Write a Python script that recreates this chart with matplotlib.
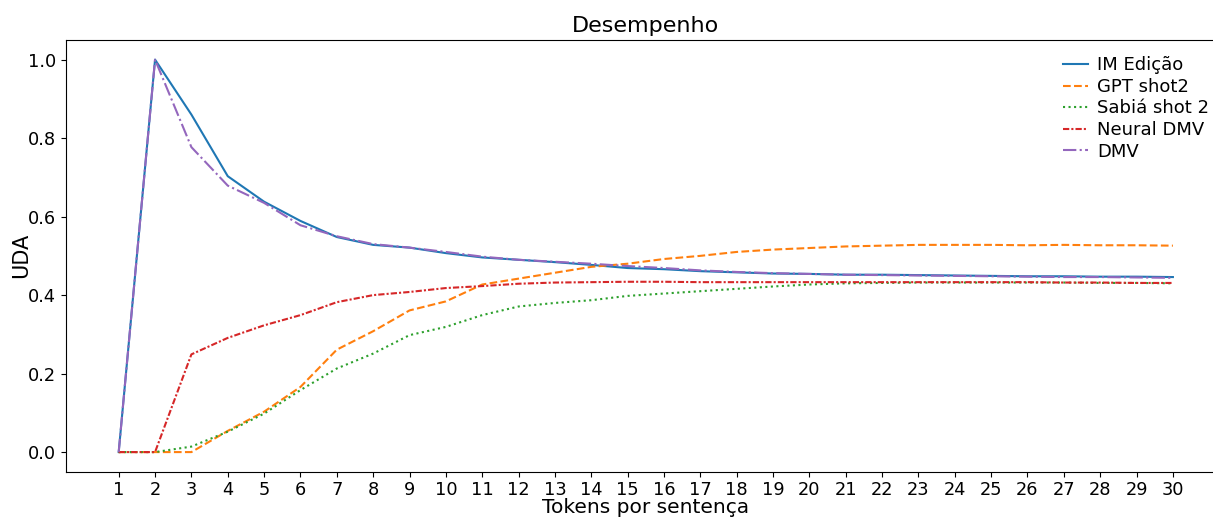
import matplotlib
matplotlib.use("Agg")
import matplotlib.pyplot as plt

tokens = list(range(1, 31))

im_edicao = [0.0, 1.0, 0.860, 0.703, 0.638, 0.589, 0.548, 0.528, 0.521, 0.507,
             0.496, 0.490, 0.484, 0.477, 0.469, 0.466, 0.461, 0.458, 0.455, 0.454,
             0.452, 0.452, 0.451, 0.450, 0.449, 0.448, 0.448, 0.447, 0.447, 0.446]
gpt_shot2 = [0.0, 0.0, 0.0, 0.054, 0.103, 0.166, 0.261, 0.308, 0.361, 0.384,
             0.427, 0.442, 0.457, 0.472, 0.480, 0.492, 0.500, 0.510, 0.516, 0.520,
             0.524, 0.526, 0.528, 0.528, 0.528, 0.527, 0.528, 0.527, 0.527, 0.526]
sabia_shot2 = [0.0, 0.0, 0.014, 0.052, 0.098, 0.158, 0.213, 0.251, 0.298, 0.319,
               0.349, 0.371, 0.380, 0.387, 0.398, 0.404, 0.410, 0.416, 0.422, 0.427,
               0.430, 0.431, 0.432, 0.432, 0.432, 0.432, 0.432, 0.431, 0.431, 0.430]
neural_dmv = [0.0, 0.0, 0.249, 0.291, 0.323, 0.349, 0.382, 0.400, 0.408, 0.418,
              0.423, 0.429, 0.432, 0.433, 0.434, 0.434, 0.433, 0.433, 0.433, 0.433,
              0.433, 0.433, 0.433, 0.433, 0.433, 0.433, 0.432, 0.432, 0.431, 0.431]
dmv = [0.0, 1.0, 0.777, 0.679, 0.635, 0.578, 0.550, 0.530, 0.521, 0.510,
       0.498, 0.490, 0.485, 0.480, 0.474, 0.469, 0.463, 0.459, 0.456, 0.454,
       0.452, 0.451, 0.450, 0.449, 0.448, 0.447, 0.446, 0.446, 0.445, 0.444]

series = [
    ("IM Edição", im_edicao, "-"),
    ("GPT shot2", gpt_shot2, "--"),
    ("Sabiá shot 2", sabia_shot2, ":"),
    ("Neural DMV", neural_dmv, (0, (3, 1, 1, 1))),
    ("DMV", dmv, "-."),
]

fig = plt.figure(figsize=(12.13, 5.17), dpi=100)
# the plotting area runs a little past the right edge of the canvas
ax = fig.add_axes([0.0544, 0.0876, 0.956, 0.835])

for label, values, style in series:
    ax.plot(tokens, values, linestyle=style, linewidth=1.5, label=label)

ax.set_xticks(tokens)
ax.spines["right"].set_visible(False)
ax.tick_params(axis="both", labelsize=12.8)
ax.set_title("Desempenho", fontsize=16)
ax.set_xlabel("Tokens por sentença", fontsize=14.5, labelpad=-1)
ax.set_ylabel("UDA", fontsize=15, labelpad=-2)
ax.legend(loc="upper right", frameon=False, fontsize=13,
          handlelength=1.4, handletextpad=0.5, labelspacing=0.2)

fig.savefig("out.png", dpi=100)
